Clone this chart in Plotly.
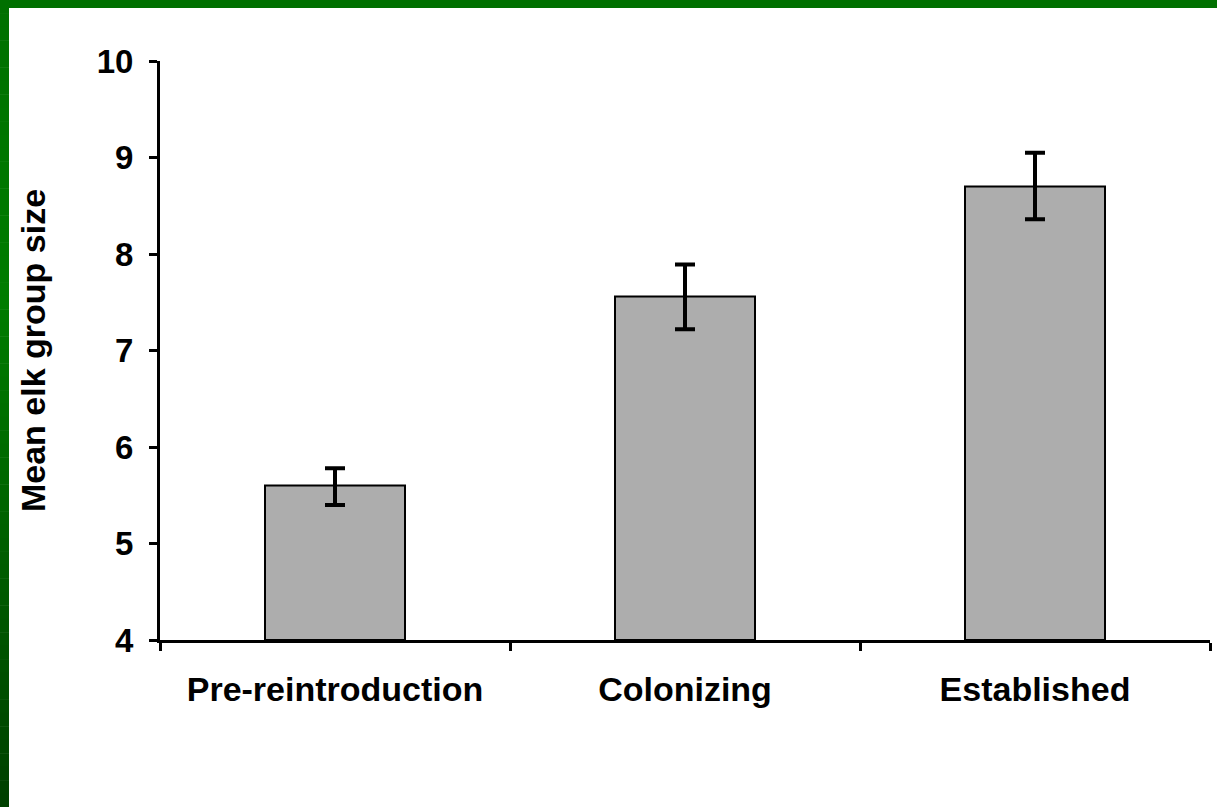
import plotly.graph_objects as go

# Mean elk group size by wolf-recovery period
periods = ["Pre-reintroduction", "Colonizing", "Established"]
mean_size = [5.6, 7.56, 8.7]
err_plus = [0.18, 0.33, 0.35]
err_minus = [0.2, 0.34, 0.34]
y_ticks = [4, 5, 6, 7, 8, 9, 10]

W, H = 1217, 807
ML, MR, MT, MB = 160, 7, 61, 167
PW, PH = W - ML - MR, H - MT - MB

FONT = "Liberation Sans, Arial, sans-serif"
FS_NUM = 33
FS_TXT = 34

fig = go.Figure(
    go.Bar(
        x=periods,
        y=[v - 4 for v in mean_size],
        base=4,
        marker=dict(color="#ADADAD", line=dict(color="black", width=2)),
        error_y=dict(
            type="data",
            symmetric=False,
            array=err_plus,
            arrayminus=err_minus,
            color="black",
            thickness=4,
            width=10,
        ),
        width=0.4,
    )
)


def px_x(p):
    return (p - ML) / PW


def px_y(p):
    return 1 - (p - MT) / PH


shapes = []
# frame: solid green strip along the top
shapes.append(dict(type="rect", xref="paper", yref="paper",
                   x0=px_x(0), x1=px_x(W), y0=px_y(0), y1=px_y(8),
                   fillcolor="#007000", line=dict(width=0), layer="above"))


# frame: green strip down the left with a vertical shade
def lerp(a, b, t):
    return tuple(round(a[i] + (b[i] - a[i]) * t) for i in range(3))


stops = [(0, (0, 112, 0)), (300, (0, 124, 0)), (807, (0, 64, 0))]
n = 60
for i in range(n):
    y0 = H * i / n
    y1 = H * (i + 1) / n
    ym = (y0 + y1) / 2
    for (a, ca), (b, cb) in zip(stops, stops[1:]):
        if a <= ym <= b:
            c = lerp(ca, cb, (ym - a) / (b - a))
            break
    shapes.append(dict(type="rect", xref="paper", yref="paper",
                       x0=px_x(0), x1=px_x(9), y0=px_y(y0), y1=px_y(y1 + 0.5),
                       fillcolor="rgb(%d,%d,%d)" % c, line=dict(width=0),
                       layer="above"))

fig.update_layout(
    width=W,
    height=H,
    margin=dict(l=ML, r=MR, t=MT, b=MB),
    paper_bgcolor="white",
    plot_bgcolor="white",
    showlegend=False,
    shapes=shapes,
    font=dict(family=FONT, color="black"),
    xaxis=dict(
        type="category",
        range=[-0.5, 2.5],
        showline=True,
        linecolor="black",
        linewidth=3,
        ticks="outside",
        tickson="boundaries",
        ticklen=8,
        tickwidth=3,
        tickcolor="black",
        showgrid=False,
        tickfont=dict(family=FONT, size=FS_TXT, color="black", weight="bold"),
        ticklabelstandoff=17,
    ),
    yaxis=dict(
        range=[4, 10],
        tickvals=y_ticks,
        showline=True,
        linecolor="black",
        linewidth=3,
        ticks="outside",
        ticklen=8,
        tickwidth=3,
        tickcolor="black",
        showgrid=False,
        zeroline=False,
        tickfont=dict(family=FONT, size=FS_NUM, color="black", weight="bold"),
        ticklabelstandoff=9,
        title=dict(text="Mean elk group size", standoff=41,
                   font=dict(family=FONT, size=FS_TXT, color="black", weight="bold")),
    ),
)

fig.write_html("out.html")
